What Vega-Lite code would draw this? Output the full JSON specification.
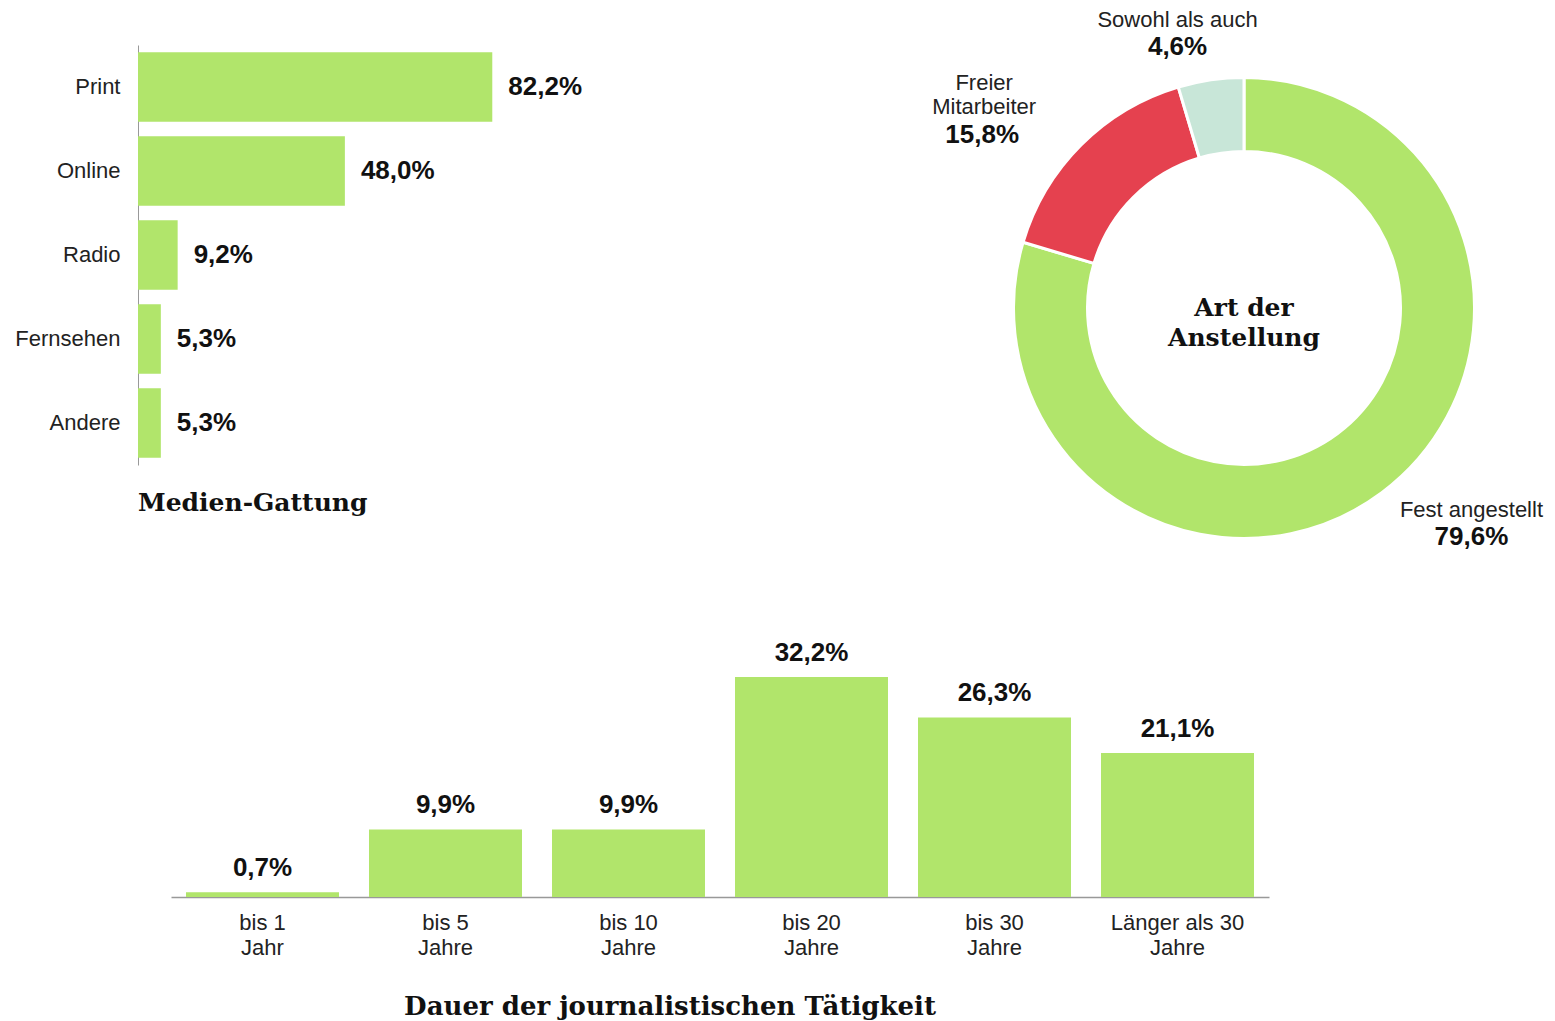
{
  "$schema": "https://vega.github.io/schema/vega-lite/v6.json",
  "background": "white",
  "padding": {"left": 14, "top": 8, "right": 5, "bottom": 5},
  "spacing": 69,
  "config": {"view": {"stroke": null}, "font": "Liberation Sans"},
  "datasets": {
    "media": [
      {"gattung": "Print", "anteil": 82.2, "label": "82,2%"},
      {"gattung": "Online", "anteil": 48.0, "label": "48,0%"},
      {"gattung": "Radio", "anteil": 9.2, "label": "9,2%"},
      {"gattung": "Fernsehen", "anteil": 5.3, "label": "5,3%"},
      {"gattung": "Andere", "anteil": 5.3, "label": "5,3%"}
    ],
    "employment": [
      {"art": "Fest angestellt", "anteil": 79.6, "label": "79,6%", "idx": 1},
      {"art": "Freier Mitarbeiter", "anteil": 15.8, "label": "15,8%", "idx": 2},
      {"art": "Sowohl als auch", "anteil": 4.6, "label": "4,6%", "idx": 3}
    ],
    "duration": [
      {"dauer": "bis 1\nJahr", "anteil": 0.7, "label": "0,7%"},
      {"dauer": "bis 5\nJahre", "anteil": 9.9, "label": "9,9%"},
      {"dauer": "bis 10\nJahre", "anteil": 9.9, "label": "9,9%"},
      {"dauer": "bis 20\nJahre", "anteil": 32.2, "label": "32,2%"},
      {"dauer": "bis 30\nJahre", "anteil": 26.3, "label": "26,3%"},
      {"dauer": "Länger als 30\nJahre", "anteil": 21.1, "label": "21,1%"}
    ]
  },
  "vconcat": [
    {
      "hconcat": [
        {
          "width": 431,
          "height": 420,
          "data": {"name": "media"},
          "title": {"text": "Medien-Gattung", "orient": "bottom", "anchor": "start", "frame": "group", "offset": 26, "font": "DejaVu Serif", "fontSize": 25, "fontWeight": "bold", "color": "#111111"},
          "encoding": {
            "y": {"field": "gattung", "type": "nominal", "sort": null,
              "scale": {"paddingInner": 0.17, "paddingOuter": 0.085},
              "axis": {"title": null, "ticks": false, "domainColor": "#999999", "domainWidth": 1, "labelFont": "Liberation Sans", "labelFontSize": 22, "labelColor": "#222222", "labelPadding": 18}},
            "x": {"field": "anteil", "type": "quantitative", "scale": {"domain": [0, 100]}, "axis": null}
          },
          "layer": [
            {"mark": {"type": "bar", "color": "#b1e56b"}},
            {"mark": {"type": "text", "align": "left", "baseline": "middle", "dx": 16, "font": "Liberation Sans", "fontSize": 26, "fontWeight": "bold", "color": "#111111"},
             "encoding": {"text": {"field": "label"}}}
          ]
        },
        {
          "width": 460,
          "height": 526,
          "data": {"name": "employment"},
          "layer": [
            {"mark": {"type": "arc", "outerRadius": 230.5, "innerRadius": 156.5, "stroke": "white", "strokeWidth": 3},
             "encoding": {
               "theta": {"field": "anteil", "type": "quantitative", "stack": true},
               "order": {"field": "idx"},
               "color": {"field": "art", "type": "nominal", "scale": {"domain": ["Fest angestellt", "Freier Mitarbeiter", "Sowohl als auch"], "range": ["#b1e56b", "#e5414f", "#c8e6d8"]}, "legend": null}
             }},
            {"mark": {"type": "text", "radius": 260, "dx": 72, "dy": -6, "align": "center", "baseline": "middle", "font": "Liberation Sans", "color": "#222222"},
             "encoding": {
               "theta": {"field": "anteil", "type": "quantitative", "stack": true},
               "order": {"field": "idx"},
               "size": {"condition": {"test": "datum.art === 'Fest angestellt'", "value": 22}, "value": 0},
               "text": {"condition": {"test": "datum.art === 'Fest angestellt'", "field": "art"}, "value": ""}
             }},
            {"mark": {"type": "text", "radius": 260, "dx": 72, "dy": 21, "align": "center", "baseline": "middle", "font": "Liberation Sans", "fontWeight": "bold", "color": "#111111"},
             "encoding": {
               "theta": {"field": "anteil", "type": "quantitative", "stack": true},
               "order": {"field": "idx"},
               "size": {"condition": {"test": "datum.art === 'Fest angestellt'", "value": 26}, "value": 0},
               "text": {"condition": {"test": "datum.art === 'Fest angestellt'", "field": "label"}, "value": ""}
             }},
            {"mark": {"type": "text", "radius": 260, "dx": -76, "dy": -41, "align": "center", "baseline": "middle", "lineBreak": " ", "lineHeight": 24, "font": "Liberation Sans", "color": "#222222"},
             "encoding": {
               "theta": {"field": "anteil", "type": "quantitative", "stack": true},
               "order": {"field": "idx"},
               "size": {"condition": {"test": "datum.art === 'Freier Mitarbeiter'", "value": 22}, "value": 0},
               "text": {"condition": {"test": "datum.art === 'Freier Mitarbeiter'", "field": "art"}, "value": ""}
             }},
            {"mark": {"type": "text", "radius": 260, "dx": -78, "dy": 11, "align": "center", "baseline": "middle", "font": "Liberation Sans", "fontWeight": "bold", "color": "#111111"},
             "encoding": {
               "theta": {"field": "anteil", "type": "quantitative", "stack": true},
               "order": {"field": "idx"},
               "size": {"condition": {"test": "datum.art === 'Freier Mitarbeiter'", "value": 26}, "value": 0},
               "text": {"condition": {"test": "datum.art === 'Freier Mitarbeiter'", "field": "label"}, "value": ""}
             }},
            {"mark": {"type": "text", "radius": 260, "dx": -29, "dy": -31, "align": "center", "baseline": "middle", "font": "Liberation Sans", "color": "#222222"},
             "encoding": {
               "theta": {"field": "anteil", "type": "quantitative", "stack": true},
               "order": {"field": "idx"},
               "size": {"condition": {"test": "datum.art === 'Sowohl als auch'", "value": 22}, "value": 0},
               "text": {"condition": {"test": "datum.art === 'Sowohl als auch'", "field": "art"}, "value": ""}
             }},
            {"mark": {"type": "text", "radius": 260, "dx": -29, "dy": -4, "align": "center", "baseline": "middle", "font": "Liberation Sans", "fontWeight": "bold", "color": "#111111"},
             "encoding": {
               "theta": {"field": "anteil", "type": "quantitative", "stack": true},
               "order": {"field": "idx"},
               "size": {"condition": {"test": "datum.art === 'Sowohl als auch'", "value": 26}, "value": 0},
               "text": {"condition": {"test": "datum.art === 'Sowohl als auch'", "field": "label"}, "value": ""}
             }},
            {"data": {"values": [{"titel": "Art der\nAnstellung"}]},
             "mark": {"type": "text", "align": "center", "baseline": "middle", "dy": 0, "lineBreak": "\n", "lineHeight": 30, "font": "DejaVu Serif", "fontSize": 25, "fontWeight": "bold", "color": "#111111"},
             "encoding": {"text": {"field": "titel"}}}
          ]
        }
      ],
      "spacing": 349
    },
    {
      "hconcat": [
        {"width": 33, "height": 239, "data": {"values": []}, "mark": "text", "encoding": {}},
        {
          "width": 1098,
          "height": 239,
          "data": {"name": "duration"},
          "title": {"text": "Dauer der journalistischen Tätigkeit", "orient": "bottom", "anchor": "middle", "frame": "group", "dx": -50, "offset": 36, "font": "DejaVu Serif", "fontSize": 26, "fontWeight": "bold", "color": "#111111"},
          "encoding": {
            "x": {"field": "dauer", "type": "nominal", "sort": null,
              "scale": {"paddingInner": 0.164, "paddingOuter": 0.082},
              "axis": {"title": null, "labelAngle": 0, "ticks": false, "domainColor": "#999999", "domainWidth": 1.5, "labelExpr": "split(datum.value, '\\n')", "labelFont": "Liberation Sans", "labelFontSize": 22, "labelColor": "#222222", "labelPadding": 15, "labelLineHeight": 25}},
            "y": {"field": "anteil", "type": "quantitative", "scale": {"domain": [0, 35]}, "axis": null}
          },
          "layer": [
            {"mark": {"type": "bar", "color": "#b1e56b"}},
            {"mark": {"type": "text", "align": "center", "baseline": "alphabetic", "dy": -16, "font": "Liberation Sans", "fontSize": 26, "fontWeight": "bold", "color": "#111111"},
             "encoding": {"text": {"field": "label"}}}
          ]
        }
      ],
      "spacing": 0
    }
  ]
}
